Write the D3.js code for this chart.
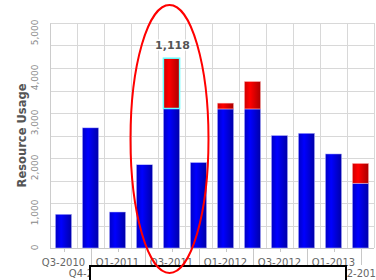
<!DOCTYPE html>
<html>
<head>
<meta charset="utf-8">
<script src="https://cdn.jsdelivr.net/npm/d3@7"></script>
<style>
  body { margin: 0; background: #fff; }
  svg { display: block; font-family: "DejaVu Sans", sans-serif; }
</style>
</head>
<body>
<svg id="chart" width="376" height="280"></svg>
<script>
'use strict';

// quarters on the x axis
const categories = ['Q3-2010', 'Q4-2010', 'Q1-2011', 'Q2-2011', 'Q3-2011', 'Q4-2011',
                    'Q1-2012', 'Q2-2012', 'Q3-2012', 'Q4-2012', 'Q1-2013', 'Q2-2013'];
// blue part (within allocation)
const baseUsage = [750, 2670, 800, 1850, 3100, 1900, 3090, 3090, 2500, 2550, 2090, 1440];
// red part (over allocation)
const overUsage = [0, 0, 0, 0, 1118, 0, 130, 610, 0, 0, 0, 440];
const yTicks = [0, 1000, 2000, 3000, 4000, 5000];
const highlighted = 4;

const svg = d3.select('#chart');
const plotLeft = 50, plotRight = 374, plotTop = 23, plotBottom = 248;

const x = d3.scaleBand()
  .domain(categories)
  .range([plotLeft, plotRight])
  .paddingInner(0.4)
  .paddingOuter(0.2);

const y = d3.scaleLinear()
  .domain([0, 5000])
  .range([plotBottom, plotTop]);

const defs = svg.append('defs');
const gradient = (id, stops) => {
  const g = defs.append('linearGradient').attr('id', id)
    .attr('x1', 0).attr('x2', 1).attr('y1', 0).attr('y2', 0);
  stops.forEach(([o, c]) => g.append('stop').attr('offset', o).attr('stop-color', c));
};
gradient('blueGrad', [[0, '#0000c4'], [0.35, '#0000ff'], [1, '#0000a8']]);
gradient('redGrad', [[0, '#d00000'], [0.35, '#ff0000'], [1, '#a80000']]);

// horizontal grid every 500
const grid = svg.append('g').attr('stroke', '#d8d8d8').attr('stroke-width', 1);
d3.range(0, 5001, 500).forEach(v => {
  grid.append('line')
    .attr('x1', plotLeft).attr('x2', plotRight)
    .attr('y1', Math.round(y(v)) + 0.5).attr('y2', Math.round(y(v)) + 0.5);
});
// vertical grid at band edges
const half = (x.step() - x.bandwidth()) / 2;
categories.concat([null]).forEach((c) => {
  const bx = c ? x(c) - half : x(categories[categories.length - 1]) + x.bandwidth() + half;
  grid.append('line')
    .attr('x1', Math.round(bx) + 0.5).attr('x2', Math.round(bx) + 0.5)
    .attr('y1', plotTop).attr('y2', plotBottom);
});

// y axis labels, rotated
const yAxis = svg.append('g')
  .attr('transform', `translate(${plotLeft},0)`)
  .call(d3.axisLeft(y).tickValues(yTicks).tickSize(0).tickPadding(0)
    .tickFormat(d3.format(',')));
yAxis.select('.domain').attr('stroke', '#cccccc');
yAxis.selectAll('.tick text')
  .attr('x', 0).attr('dy', 0)
  .attr('transform', 'translate(-12,-4) rotate(-90)')
  .attr('text-anchor', 'end')
  .attr('font-size', 9)
  .attr('fill', '#8a8a8a')
  .attr('font-family', '"DejaVu Sans", sans-serif');

// x axis with staggered labels
const xAxis = svg.append('g').attr('transform', `translate(0,${plotBottom})`);
xAxis.append('line')
  .attr('x1', plotLeft).attr('x2', plotRight)
  .attr('y1', 0.5).attr('y2', 0.5)
  .attr('stroke', '#c8c8c8');
categories.forEach((c, i) => {
  const cx = x(c) + x.bandwidth() / 2;
  const row = i % 2;
  xAxis.append('line')
    .attr('x1', Math.round(cx) + 0.5).attr('x2', Math.round(cx) + 0.5)
    .attr('y1', 0).attr('y2', row ? 17 : 4)
    .attr('stroke', '#c8c8c8');
  xAxis.append('text')
    .attr('x', cx)
    .attr('y', row ? 29 : 18)
    .attr('text-anchor', 'middle')
    .attr('font-size', 10)
    .attr('fill', '#666')
    .text(c);
});

// stacked bars
const bars = svg.append('g');
categories.forEach((c, i) => {
  const b = baseUsage[i], o = overUsage[i];
  bars.append('rect')
    .attr('x', x(c)).attr('width', x.bandwidth())
    .attr('y', y(b)).attr('height', y(0) - y(b))
    .attr('fill', 'url(#blueGrad)')
    .attr('stroke', '#c0c0ff').attr('stroke-width', 0.5);
  if (o > 0) {
    bars.append('rect')
      .attr('x', x(c)).attr('width', x.bandwidth())
      .attr('y', y(b + o)).attr('height', y(b) - y(b + o))
      .attr('fill', 'url(#redGrad)')
      .attr('stroke', i === highlighted ? '#6ff' : '#ffc0c0')
      .attr('stroke-width', i === highlighted ? 1.5 : 0.5);
  }
});

// value label on hovered segment
const hc = x(categories[highlighted]) + x.bandwidth() / 2;
svg.append('text')
  .attr('x', hc + 1)
  .attr('y', y(baseUsage[highlighted] + overUsage[highlighted]) - 9)
  .attr('text-anchor', 'middle')
  .attr('font-size', 11)
  .attr('font-weight', 'bold')
  .attr('fill', '#555')
  .attr('stroke', '#fff').attr('stroke-width', 3).attr('paint-order', 'stroke')
  .text(d3.format(',')(overUsage[highlighted]));

// y title
svg.append('text')
  .attr('transform', `translate(26,${(plotTop + plotBottom) / 2}) rotate(-90)`)
  .attr('text-anchor', 'middle')
  .attr('font-size', 11.5)
  .attr('font-weight', 'bold')
  .attr('fill', '#555')
  .text('Resource Usage');

// white box covering the lower label row
svg.append('rect')
  .attr('x', 90).attr('y', 266)
  .attr('width', 256).attr('height', 30)
  .attr('fill', '#fff')
  .attr('stroke', '#000')
  .attr('stroke-width', 2);

// red annotation ellipse around the highlighted quarter
svg.append('ellipse')
  .attr('cx', hc - 2).attr('cy', 139)
  .attr('rx', 39).attr('ry', 134)
  .attr('fill', 'none')
  .attr('stroke', '#ff0000')
  .attr('stroke-width', 2);
</script>
</body>
</html>
